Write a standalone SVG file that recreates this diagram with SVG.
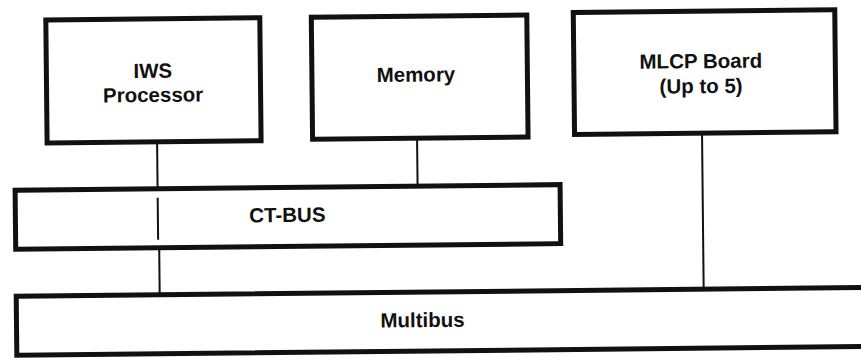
<svg xmlns="http://www.w3.org/2000/svg" width="861" height="358" viewBox="0 0 861 358">
<style>
.box{fill:#fff;stroke:#111;stroke-width:5}
.conn{stroke:#111;stroke-width:2;fill:none}
.lbl{font-family:"Liberation Sans",Arial,sans-serif;font-weight:bold;font-size:20.5px;fill:#111;text-anchor:middle}
</style>
<rect width="861" height="358" fill="#fff"/>
<g transform="rotate(-0.6 430 179)">
<g id="connectors">
<line class="conn" x1="157.5" y1="139" x2="157.5" y2="186"/>
<line class="conn" x1="157.5" y1="195" x2="157.5" y2="237"/>
<line class="conn" x1="158.5" y1="245" x2="158.5" y2="292"/>
<line class="conn" x1="417.5" y1="138" x2="417.5" y2="186"/>
<line class="conn" x1="702.5" y1="136" x2="702.5" y2="292"/>
</g>
<g id="iws">
<rect class="box" x="47.5" y="16" width="214" height="123"/>
<text class="lbl" x="154" y="75">IWS</text>
<text class="lbl" x="154" y="99">Processor</text>
</g>
<g id="memory">
<rect class="box" x="313" y="16" width="215.5" height="122"/>
<text class="lbl" x="417" y="81.5">Memory</text>
</g>
<g id="mlcp">
<rect class="box" x="575" y="14" width="261.5" height="122"/>
<text class="lbl" x="702" y="71">MLCP Board</text>
<text class="lbl" x="702" y="96">(Up to 5)</text>
</g>
<g id="ctbus">
<rect class="box" x="15" y="186" width="545" height="59" fill="none" style="fill:none"/>
<text class="lbl" x="287" y="220.5">CT-BUS</text>
</g>
<g id="multibus">
<rect class="box" x="15" y="292" width="870" height="59"/>
<text class="lbl" x="421" y="327">Multibus</text>
</g>
</g>
</svg>
